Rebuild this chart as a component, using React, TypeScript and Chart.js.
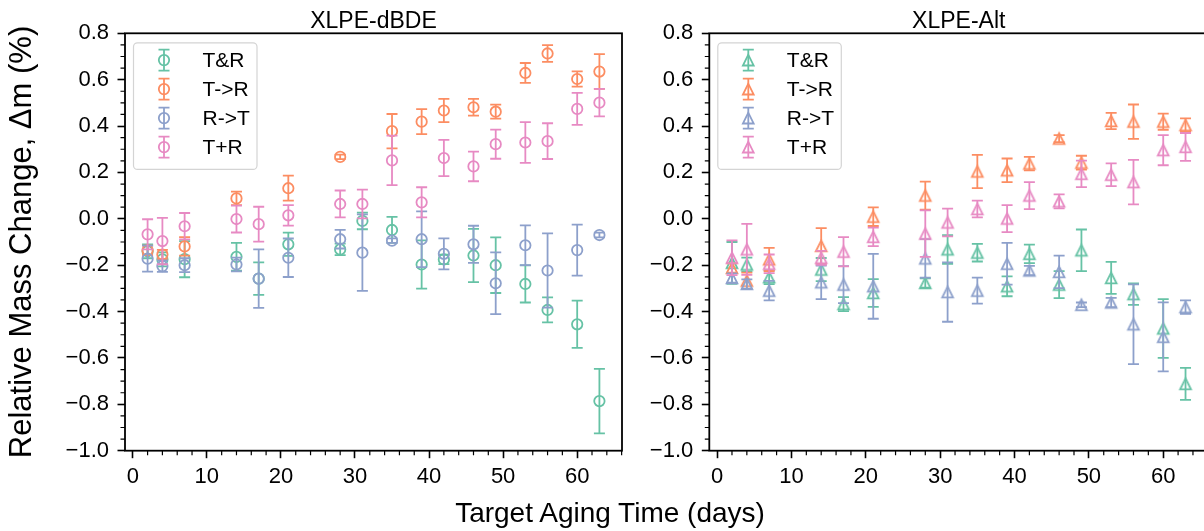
import React, { useEffect, useRef } from "react";
import { Chart, registerables } from "chart.js";

Chart.register(...registerables);

// ---------- data ----------
const days = [2, 4, 7, 14, 17, 21, 28, 31, 35, 39, 42, 46, 49, 53, 56, 60, 63];
const seriesLabels = ["T&R", "T->R", "R->T", "T+R"];
const seriesColors = ["#66c2a5", "#fc8d62", "#8da0cb", "#e78ac3"];
const panelTitles = ["XLPE-dBDE", "XLPE-Alt"];
const xTickValues = [0, 10, 20, 30, 40, 50, 60];
const yTickValues = [-1.0, -0.8, -0.6, -0.4, -0.2, 0.0, 0.2, 0.4, 0.6, 0.8];
const xAxisTitle = "Target Aging Time (days)";
const yAxisTitle = "Relative Mass Change, Δm (%)";

// XLPE-dBDE
const dbdeTandR = [-0.14, -0.175, -0.174, -0.164, -0.258, -0.11, -0.132, -0.009, -0.048, -0.197, -0.175, -0.158, -0.2, -0.281, -0.393, -0.455, -0.786];
const dbdeTandRErr = [0.03, 0.03, 0.078, 0.06, 0.07, 0.05, 0.025, 0.036, 0.056, 0.104, 0.02, 0.115, 0.12, 0.08, 0.054, 0.102, 0.139];
const dbdeTthenR = [-0.136, -0.154, -0.119, 0.088, null, 0.132, 0.267, null, 0.378, 0.419, 0.467, 0.481, 0.462, 0.629, 0.713, 0.603, 0.635];
const dbdeTthenRErr = [0.02, 0.02, 0.04, 0.029, null, 0.054, 0.01, null, 0.074, 0.054, 0.05, 0.036, 0.03, 0.043, 0.036, 0.033, 0.075];
const dbdeRthenT = [-0.172, -0.204, -0.2, -0.197, -0.258, -0.168, -0.088, -0.146, -0.094, -0.088, -0.151, -0.11, -0.278, -0.114, -0.223, -0.135, -0.07];
const dbdeRthenTErr = [0.056, 0.025, 0.03, 0.03, 0.126, 0.083, 0.04, 0.165, 0.01, 0.12, 0.067, 0.08, 0.133, 0.086, 0.16, 0.11, 0.01];
const dbdeTplusR = [-0.067, -0.096, -0.032, -0.001, -0.023, 0.015, 0.064, 0.064, 0.252, 0.071, 0.262, 0.226, 0.322, 0.329, 0.335, 0.474, 0.501];
const dbdeTplusRErr = [0.065, 0.1, 0.057, 0.058, 0.075, 0.044, 0.058, 0.062, 0.107, 0.065, 0.078, 0.064, 0.063, 0.088, 0.077, 0.069, 0.059];

// XLPE-Alt
const altTandR = [-0.19, -0.197, -0.252, -0.219, -0.368, -0.32, -0.277, -0.132, -0.146, -0.291, -0.151, -0.284, -0.136, -0.255, -0.325, -0.473, -0.712];
const altTandRErr = [0.09, 0.03, 0.03, 0.05, 0.03, 0.06, 0.02, 0.062, 0.038, 0.043, 0.04, 0.058, 0.09, 0.069, 0.046, 0.127, 0.069];
const altTthenR = [-0.212, -0.267, -0.175, -0.117, null, 0.009, 0.1, null, 0.204, 0.209, 0.238, 0.346, 0.242, 0.422, 0.419, 0.419, 0.404];
const altTthenRErr = [0.02, 0.035, 0.05, 0.077, null, 0.04, 0.06, null, 0.072, 0.051, 0.029, 0.015, 0.03, 0.035, 0.074, 0.035, 0.029];
const altRthenT = [-0.255, -0.281, -0.31, -0.274, -0.284, -0.291, -0.171, -0.316, -0.31, -0.194, -0.223, -0.229, -0.371, -0.361, -0.455, -0.509, -0.381];
const altRthenTErr = [0.02, 0.02, 0.042, 0.072, 0.08, 0.14, 0.083, 0.128, 0.056, 0.09, 0.02, 0.07, 0.01, 0.02, 0.172, 0.149, 0.029];
const altTplusR = [-0.168, -0.132, -0.194, -0.168, -0.142, -0.078, -0.064, -0.016, 0.042, 0.001, 0.1, 0.075, 0.194, 0.19, 0.158, 0.296, 0.31];
const altTplusRErr = [0.075, 0.11, 0.04, 0.03, 0.063, 0.04, 0.1, 0.06, 0.036, 0.058, 0.058, 0.03, 0.057, 0.049, 0.096, 0.065, 0.06];

// ---------- helpers ----------
const FONT = '"Liberation Sans", Arial, Helvetica, sans-serif';
const X_MIN = -1.05;
const X_MAX = 66.05;
const Y_MIN = -1.0;
const Y_MAX = 0.8;
const LINE_W = 1.8;
const CAP = 5.5;
const TRI = 5.4;

type Pt = { x: number; y: number; e: number };

function toPoints(means: (number | null)[], errs: (number | null)[]): Pt[] {
  const out: Pt[] = [];
  days.forEach((d, i) => {
    const m = means[i];
    if (m === null || m === undefined) return;
    out.push({ x: d, y: m, e: errs[i] ?? 0 });
  });
  return out;
}

function drawTriangle(g: CanvasRenderingContext2D, x: number, y: number, s: number) {
  g.beginPath();
  g.moveTo(x, y - s);
  g.lineTo(x - s, y + s);
  g.lineTo(x + s, y + s);
  g.closePath();
  g.stroke();
}

function triangleCanvas(color: string) {
  const c = document.createElement("canvas");
  c.width = 18;
  c.height = 18;
  const g = c.getContext("2d")!;
  g.strokeStyle = color;
  g.lineWidth = LINE_W;
  drawTriangle(g, 9, 9, TRI);
  return c;
}

function fmtY(v: number) {
  const s = Math.abs(v) < 1e-9 ? "0.0" : Number(v).toFixed(1);
  return s.replace("-", "\u2212");
}

const decorPlugin = {
  id: "panelDecor",
  beforeDatasetDraw(chart: any, args: any) {
    const ds = chart.data.datasets[args.index];
    const xs = chart.scales.x;
    const ys = chart.scales.y;
    const ctx = chart.ctx as CanvasRenderingContext2D;
    ctx.save();
    ctx.strokeStyle = ds.borderColor;
    ctx.lineWidth = LINE_W;
    for (const p of ds.data as Pt[]) {
      const px = xs.getPixelForValue(p.x);
      const top = ys.getPixelForValue(p.y + p.e);
      const bot = ys.getPixelForValue(p.y - p.e);
      ctx.beginPath();
      ctx.moveTo(px, top);
      ctx.lineTo(px, bot);
      ctx.moveTo(px - CAP, top);
      ctx.lineTo(px + CAP, top);
      ctx.moveTo(px - CAP, bot);
      ctx.lineTo(px + CAP, bot);
      ctx.stroke();
    }
    ctx.restore();
  },
  afterDraw(chart: any, _args: any, opts: any) {
    const ctx = chart.ctx as CanvasRenderingContext2D;
    const ca = chart.chartArea;
    const xs = chart.scales.x;
    const ys = chart.scales.y;
    ctx.save();
    // minor ticks
    ctx.strokeStyle = "#000";
    ctx.lineWidth = 1.2;
    ctx.beginPath();
    for (let i = 0; i <= 36; i++) {
      if (i % 4 === 0) continue;
      const v = Y_MIN + i * 0.05;
      const py = ys.getPixelForValue(v);
      ctx.moveTo(ca.left, py);
      ctx.lineTo(ca.left - 4.5, py);
    }
    for (let v = 0; v <= X_MAX; v += 2) {
      if (v % 10 === 0) continue;
      const px = xs.getPixelForValue(v);
      ctx.moveTo(px, ca.bottom);
      ctx.lineTo(px, ca.bottom + 4.5);
    }
    ctx.stroke();
    // frame
    ctx.lineWidth = 1.8;
    ctx.strokeRect(ca.left, ca.top, ca.right - ca.left, ca.bottom - ca.top);
    // title
    ctx.fillStyle = "#000";
    ctx.font = `23px ${FONT}`;
    ctx.textAlign = "center";
    ctx.textBaseline = "alphabetic";
    ctx.fillText(opts.title, (ca.left + ca.right) / 2, 28);
    // legend
    const bx = ca.left + 8.5;
    const by = ca.top + 9.5;
    const bw = 123.5;
    const bh = 126.6;
    ctx.beginPath();
    const r = 4;
    ctx.moveTo(bx + r, by);
    ctx.arcTo(bx + bw, by, bx + bw, by + bh, r);
    ctx.arcTo(bx + bw, by + bh, bx, by + bh, r);
    ctx.arcTo(bx, by + bh, bx, by, r);
    ctx.arcTo(bx, by, bx + bw, by, r);
    ctx.closePath();
    ctx.fillStyle = "rgba(255,255,255,0.8)";
    ctx.fill();
    ctx.strokeStyle = "#d4d4d4";
    ctx.lineWidth = 1.2;
    ctx.stroke();
    ctx.font = `21px ${FONT}`;
    ctx.textAlign = "left";
    ctx.textBaseline = "middle";
    seriesLabels.forEach((lab, i) => {
      const cy = by + 17.3 + i * 29;
      const ix = bx + 30.5;
      ctx.strokeStyle = seriesColors[i];
      ctx.lineWidth = LINE_W;
      ctx.beginPath();
      ctx.moveTo(ix, cy - 10.5);
      ctx.lineTo(ix, cy + 10.5);
      ctx.moveTo(ix - CAP, cy - 10.5);
      ctx.lineTo(ix + CAP, cy - 10.5);
      ctx.moveTo(ix - CAP, cy + 10.5);
      ctx.lineTo(ix + CAP, cy + 10.5);
      ctx.stroke();
      if (opts.marker === "circle") {
        ctx.beginPath();
        ctx.arc(ix, cy, 5.2, 0, Math.PI * 2);
        ctx.stroke();
      } else {
        drawTriangle(ctx, ix, cy, TRI);
      }
      ctx.fillStyle = "#000";
      ctx.fillText(lab, bx + 69, cy + 1);
    });
    ctx.restore();
  },
};

type PanelSpec = {
  title: string;
  marker: "circle" | "triangle";
  means: (number | null)[][];
  errs: (number | null)[][];
  yWidth: number;
  padRight: number;
  showYTitle: boolean;
};

function makeConfig(p: PanelSpec): any {
  const datasets = p.means.map((m, i) => ({
    label: seriesLabels[i],
    data: toPoints(m, p.errs[i]),
    borderColor: seriesColors[i],
    backgroundColor: "rgba(0,0,0,0)",
    pointStyle: p.marker === "circle" ? "circle" : triangleCanvas(seriesColors[i]),
    pointRadius: 5.2,
    pointBorderWidth: LINE_W,
    showLine: false,
    order: 3 - i,
  }));
  const grid = {
    display: true,
    drawOnChartArea: false,
    drawTicks: true,
    tickLength: 7.5,
    tickWidth: 1.6,
    tickColor: "#000",
  };
  return {
    type: "scatter",
    data: { datasets },
    options: {
      animation: false,
      responsive: false,
      events: [],
      layout: { padding: { top: 33.3, right: p.padRight, left: 0, bottom: 0 } },
      plugins: {
        legend: { display: false },
        tooltip: { enabled: false },
        panelDecor: { title: p.title, marker: p.marker },
      },
      scales: {
        x: {
          type: "linear",
          min: X_MIN,
          max: X_MAX,
          afterBuildTicks: (s: any) => {
            s.ticks = xTickValues.map((v) => ({ value: v }));
          },
          afterFit: (s: any) => {
            s.height = 80.3;
          },
          grid,
          border: { display: false },
          ticks: {
            autoSkip: false,
            maxRotation: 0,
            padding: 5.5,
            color: "#000",
            font: { family: FONT, size: 22 },
            callback: (v: any) => String(v),
          },
        },
        y: {
          type: "linear",
          min: Y_MIN,
          max: Y_MAX,
          afterBuildTicks: (s: any) => {
            s.ticks = yTickValues.map((v) => ({ value: v }));
          },
          afterFit: (s: any) => {
            s.width = p.yWidth;
          },
          grid,
          border: { display: false },
          title: {
            display: p.showYTitle,
            text: yAxisTitle,
            color: "#000",
            font: { family: FONT, size: 31 },
            padding: { top: 4, bottom: 0 },
          },
          ticks: {
            autoSkip: false,
            padding: 8.5,
            color: "#000",
            font: { family: FONT, size: 22 },
            callback: (v: any) => fmtY(v),
          },
        },
      },
    },
    plugins: [decorPlugin],
  };
}

const leftSpec: PanelSpec = {
  title: panelTitles[0],
  marker: "circle",
  means: [dbdeTandR, dbdeTthenR, dbdeRthenT, dbdeTplusR],
  errs: [dbdeTandRErr, dbdeTthenRErr, dbdeRthenTErr, dbdeTplusRErr],
  yWidth: 125,
  padRight: 18,
  showYTitle: true,
};

const rightSpec: PanelSpec = {
  title: panelTitles[1],
  marker: "triangle",
  means: [altTandR, altTthenR, altRthenT, altTplusR],
  errs: [altTandRErr, altTthenRErr, altRthenTErr, altTplusRErr],
  yWidth: 69.3,
  padRight: 21.8,
  showYTitle: false,
};

export default function App() {
  const leftRef = useRef<HTMLCanvasElement>(null);
  const rightRef = useRef<HTMLCanvasElement>(null);

  useEffect(() => {
    const c1 = new Chart(leftRef.current!, makeConfig(leftSpec));
    const c2 = new Chart(rightRef.current!, makeConfig(rightSpec));
    return () => {
      c1.destroy();
      c2.destroy();
    };
  }, []);

  return (
    <div
      style={{
        position: "absolute",
        left: 0,
        top: 0,
        width: 1204,
        height: 531,
        overflow: "hidden",
        background: "#fff",
      }}
    >
      <canvas
        ref={leftRef}
        width={640}
        height={531}
        style={{ position: "absolute", left: 0, top: 0, width: 640, height: 531 }}
      />
      <canvas
        ref={rightRef}
        width={590}
        height={531}
        style={{ position: "absolute", left: 640, top: 0, width: 590, height: 531 }}
      />
      <div
        style={{
          position: "absolute",
          left: 610,
          top: 499,
          transform: "translateX(-50%)",
          whiteSpace: "nowrap",
          fontFamily: FONT,
          fontSize: 28,
          lineHeight: 1,
          color: "#000",
        }}
      >
        {xAxisTitle}
      </div>
    </div>
  );
}
